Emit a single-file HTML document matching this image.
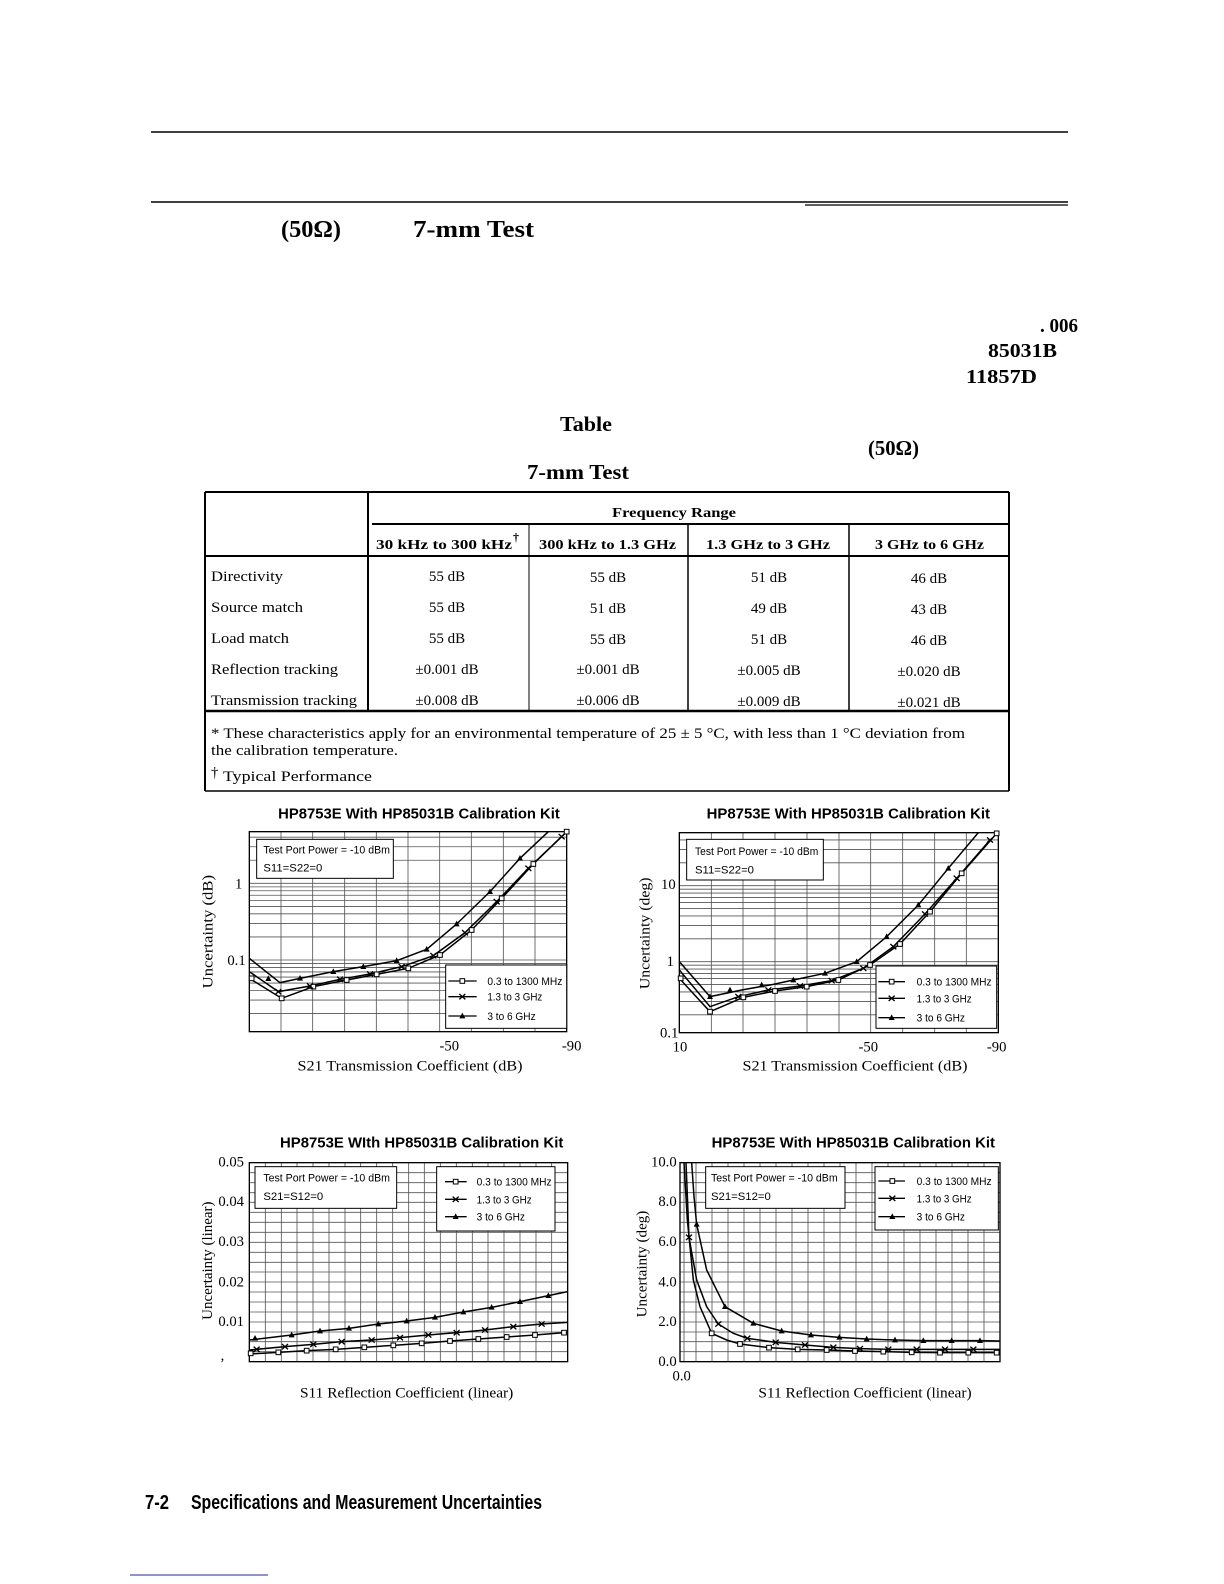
<!DOCTYPE html>
<html><head><meta charset="utf-8"><style>
html,body{margin:0;padding:0;background:#fff}
svg{display:block}
.s{font-family:"Liberation Serif",serif}
.a{font-family:"Liberation Sans",sans-serif}
.g line{stroke:#555;stroke-width:2.5}
.c{fill:none;stroke:#000;stroke-width:4.5}
</style></head><body>
<svg width="1224" height="1584" viewBox="0 0 1224 1584" xmlns="http://www.w3.org/2000/svg">
<defs>
<rect id="sq" x="-7" y="-7" width="14" height="14" fill="#fff" stroke="#000" stroke-width="3"/>
<path id="xx" d="M-9-8L9 8M-9 8L9-8" stroke="#000" stroke-width="4" fill="none"/>
<path id="tr" d="M0-10L9 7H-9Z" fill="#000"/>
</defs>
<rect width="1224" height="1584" fill="#fff"/>
<line x1="151" y1="132" x2="1068" y2="132" stroke="#000" stroke-width="1.5"/>
<line x1="151" y1="202" x2="1068" y2="202" stroke="#000" stroke-width="1.5"/>
<line x1="805" y1="205" x2="1068" y2="205" stroke="#000" stroke-width="1.2"/>
<g class="s" font-weight="bold" fill="#000">
<text x="281" y="237" font-size="24" textLength="60" lengthAdjust="spacingAndGlyphs">(50Ω)</text>
<text x="413" y="237" font-size="24" textLength="121" lengthAdjust="spacingAndGlyphs">7-mm Test</text>
<text x="1040" y="332" font-size="20" textLength="38" lengthAdjust="spacingAndGlyphs">. 006</text>
<text x="988" y="357" font-size="20" textLength="69" lengthAdjust="spacingAndGlyphs">85031B</text>
<text x="966" y="383" font-size="20" textLength="71" lengthAdjust="spacingAndGlyphs">11857D</text>
<text x="560" y="431" font-size="21" textLength="52" lengthAdjust="spacingAndGlyphs">Table</text>
<text x="868" y="455" font-size="21" textLength="51" lengthAdjust="spacingAndGlyphs">(50Ω)</text>
<text x="527" y="479" font-size="21" textLength="102" lengthAdjust="spacingAndGlyphs">7-mm Test</text>
</g>
<g stroke="#000" fill="none">
<line x1="205" y1="492" x2="1009" y2="492" stroke-width="2"/>
<line x1="205" y1="492" x2="205" y2="791" stroke-width="2"/>
<line x1="1009" y1="492" x2="1009" y2="791" stroke-width="2"/>
<line x1="372" y1="524" x2="1009" y2="524" stroke-width="2"/>
<line x1="205" y1="556" x2="1009" y2="556" stroke-width="2"/>
<line x1="368" y1="492" x2="368" y2="711" stroke-width="2"/>
<line x1="529" y1="524" x2="529" y2="711" stroke-width="1"/>
<line x1="688" y1="524" x2="688" y2="711" stroke-width="1.5"/>
<line x1="849" y1="524" x2="849" y2="711" stroke-width="1.5"/>
<line x1="205" y1="711" x2="1009" y2="711" stroke-width="2.5"/>
<line x1="205" y1="791" x2="1009" y2="791" stroke-width="1.5"/>
</g>
<g class="s" fill="#000" font-size="14">
<text x="674" y="517" font-weight="bold" text-anchor="middle" textLength="124" lengthAdjust="spacingAndGlyphs">Frequency Range</text>
<text x="376" y="549" font-weight="bold" textLength="136" lengthAdjust="spacingAndGlyphs">30 kHz to 300 kHz</text><text x="513" y="541" font-size="12" font-weight="bold">†</text>
<text x="539" y="549" font-weight="bold" textLength="137" lengthAdjust="spacingAndGlyphs">300 kHz to 1.3 GHz</text>
<text x="706" y="549" font-weight="bold" textLength="124" lengthAdjust="spacingAndGlyphs">1.3 GHz to 3 GHz</text>
<text x="875" y="549" font-weight="bold" textLength="109" lengthAdjust="spacingAndGlyphs">3 GHz to 6 GHz</text>
<g font-size="15">
<text x="211" y="581" textLength="72" lengthAdjust="spacingAndGlyphs">Directivity</text>
<text x="211" y="612" textLength="92" lengthAdjust="spacingAndGlyphs">Source match</text>
<text x="211" y="643" textLength="78" lengthAdjust="spacingAndGlyphs">Load match</text>
<text x="211" y="674" textLength="127" lengthAdjust="spacingAndGlyphs">Reflection tracking</text>
<text x="211" y="705" textLength="146" lengthAdjust="spacingAndGlyphs">Transmission tracking</text>
</g>
<g text-anchor="middle" font-size="15">
<text x="447" y="581">55 dB</text><text x="608" y="582">55 dB</text><text x="769" y="582">51 dB</text><text x="929" y="583">46 dB</text>
<text x="447" y="612">55 dB</text><text x="608" y="613">51 dB</text><text x="769" y="613">49 dB</text><text x="929" y="614">43 dB</text>
<text x="447" y="643">55 dB</text><text x="608" y="644">55 dB</text><text x="769" y="644">51 dB</text><text x="929" y="645">46 dB</text>
<text x="447" y="674">±0.001 dB</text><text x="608" y="674">±0.001 dB</text><text x="769" y="675">±0.005 dB</text><text x="929" y="676">±0.020 dB</text>
<text x="447" y="705">±0.008 dB</text><text x="608" y="705">±0.006 dB</text><text x="769" y="706">±0.009 dB</text><text x="929" y="707">±0.021 dB</text>
</g>
<text x="211" y="738" font-size="15" textLength="754" lengthAdjust="spacingAndGlyphs">* These characteristics apply for an environmental temperature of 25 ± 5 °C, with less than 1 °C deviation from</text>
<text x="211" y="755" font-size="15" textLength="187" lengthAdjust="spacingAndGlyphs">the calibration temperature.</text>
<text x="211" y="777" font-size="15">†</text>
<text x="223" y="781" font-size="15" textLength="149" lengthAdjust="spacingAndGlyphs">Typical Performance</text>
</g>

<!-- CHART 1 -->
<g transform="translate(200,790) scale(0.33333)">
<text class="a" x="657" y="85" font-size="44" font-weight="bold" text-anchor="middle" textLength="845" lengthAdjust="spacingAndGlyphs">HP8753E With HP85031B Calibration Kit</text>
<g class="g">
<line x1="148" y1="670.8" x2="1100" y2="670.8"/><line x1="148" y1="630.3" x2="1100" y2="630.3"/><line x1="148" y1="601.5" x2="1100" y2="601.5"/><line x1="148" y1="579.2" x2="1100" y2="579.2"/><line x1="148" y1="561.1" x2="1100" y2="561.1"/><line x1="148" y1="545.7" x2="1100" y2="545.7"/><line x1="148" y1="532.3" x2="1100" y2="532.3"/><line x1="148" y1="520.6" x2="1100" y2="520.6"/>
<line x1="148" y1="510" x2="1100" y2="510"/>
<line x1="148" y1="440.8" x2="1100" y2="440.8"/><line x1="148" y1="400.3" x2="1100" y2="400.3"/><line x1="148" y1="371.5" x2="1100" y2="371.5"/><line x1="148" y1="349.2" x2="1100" y2="349.2"/><line x1="148" y1="331.1" x2="1100" y2="331.1"/><line x1="148" y1="315.7" x2="1100" y2="315.7"/><line x1="148" y1="302.3" x2="1100" y2="302.3"/><line x1="148" y1="290.6" x2="1100" y2="290.6"/>
<line x1="148" y1="280" x2="1100" y2="280"/>
<line x1="148" y1="210.8" x2="1100" y2="210.8"/><line x1="148" y1="170.3" x2="1100" y2="170.3"/><line x1="148" y1="141.5" x2="1100" y2="141.5"/>
<line x1="243" y1="125" x2="243" y2="725"/><line x1="338" y1="125" x2="338" y2="725"/><line x1="434" y1="125" x2="434" y2="725"/><line x1="529" y1="125" x2="529" y2="725"/><line x1="624" y1="125" x2="624" y2="725"/><line x1="719" y1="125" x2="719" y2="725"/><line x1="814" y1="125" x2="814" y2="725"/><line x1="910" y1="125" x2="910" y2="725"/><line x1="1005" y1="125" x2="1005" y2="725"/>
</g>
<rect x="148" y="125" width="952" height="600" fill="none" stroke="#000" stroke-width="4"/>
<polyline class="c" points="148,505 240,578 300,565 400,545 490,530 590,512 680,478 770,402 870,305 960,205 1045,125"/>
<polyline class="c" points="148,565 245,625 340,590 440,570 530,553 625,535 720,495 815,420 905,325 1000,222 1100,125"/>
<polyline class="c" stroke-width="6" points="148,545 235,605 330,588 420,568 510,552 605,530 700,497 795,428 890,335 985,235 1085,140"/>
<use href="#tr" x="205" y="566"/><use href="#tr" x="300" y="565"/><use href="#tr" x="400" y="545"/><use href="#tr" x="490" y="530"/><use href="#tr" x="590" y="512"/><use href="#tr" x="680" y="478"/><use href="#tr" x="770" y="402"/><use href="#tr" x="870" y="305"/><use href="#tr" x="960" y="205"/>
<use href="#sq" x="155" y="565"/><use href="#sq" x="245" y="625"/><use href="#sq" x="340" y="590"/><use href="#sq" x="440" y="570"/><use href="#sq" x="530" y="553"/><use href="#sq" x="625" y="535"/><use href="#sq" x="720" y="495"/><use href="#sq" x="815" y="420"/><use href="#sq" x="905" y="325"/><use href="#sq" x="1000" y="222"/><use href="#sq" x="1100" y="125"/>
<use href="#xx" x="235" y="605"/><use href="#xx" x="330" y="588"/><use href="#xx" x="420" y="568"/><use href="#xx" x="510" y="552"/><use href="#xx" x="605" y="530"/><use href="#xx" x="700" y="497"/><use href="#xx" x="795" y="428"/><use href="#xx" x="890" y="335"/><use href="#xx" x="985" y="235"/><use href="#xx" x="1085" y="140"/>
<rect x="170" y="148" width="410" height="117" fill="#fff" stroke="#000" stroke-width="3"/>
<g class="a" font-size="34"><text x="190" y="190" textLength="380" lengthAdjust="spacingAndGlyphs">Test Port Power = -10 dBm</text><text x="190" y="245">S11=S22=0</text></g>
<rect x="737" y="525" width="363" height="190" fill="#fff" stroke="#000" stroke-width="3"/>
<g class="a" font-size="34">
<line x1="745" y1="573" x2="830" y2="573" stroke="#000" stroke-width="4"/><use href="#sq" x="787" y="573"/><text x="862" y="585" textLength="225" lengthAdjust="spacingAndGlyphs">0.3 to 1300 MHz</text>
<line x1="745" y1="620" x2="830" y2="620" stroke="#000" stroke-width="4"/><use href="#xx" x="787" y="620"/><text x="862" y="632" textLength="165" lengthAdjust="spacingAndGlyphs">1.3 to 3 GHz</text>
<line x1="745" y1="678" x2="830" y2="678" stroke="#000" stroke-width="4"/><use href="#tr" x="787" y="678"/><text x="862" y="690" textLength="145" lengthAdjust="spacingAndGlyphs">3 to 6 GHz</text>
</g>
<g class="s" font-size="44">
<text x="127" y="295" text-anchor="end">1</text><text x="137" y="525" text-anchor="end">0.1</text>
<text x="748" y="782" text-anchor="middle">-50</text><text x="1115" y="782" text-anchor="middle">-90</text>
<text transform="translate(38,425) rotate(-90)" text-anchor="middle" textLength="340" lengthAdjust="spacingAndGlyphs">Uncertainty (dB)</text>
<text x="630" y="842" text-anchor="middle" textLength="675" lengthAdjust="spacingAndGlyphs">S21 Transmission Coefficient (dB)</text>
</g>
</g>

<!-- CHART 2 -->
<g transform="translate(610,790) scale(0.33333)">
<text class="a" x="715" y="85" font-size="44" font-weight="bold" text-anchor="middle" textLength="850" lengthAdjust="spacingAndGlyphs">HP8753E With HP85031B Calibration Kit</text>
<g class="g">
<line x1="208" y1="674.4" x2="1165" y2="674.4"/><line x1="208" y1="634.3" x2="1165" y2="634.3"/><line x1="208" y1="605.7" x2="1165" y2="605.7"/><line x1="208" y1="583.6" x2="1165" y2="583.6"/><line x1="208" y1="565.6" x2="1165" y2="565.6"/><line x1="208" y1="550.3" x2="1165" y2="550.3"/><line x1="208" y1="537.1" x2="1165" y2="537.1"/><line x1="208" y1="525.5" x2="1165" y2="525.5"/>
<line x1="208" y1="515" x2="1165" y2="515"/>
<line x1="208" y1="446.4" x2="1165" y2="446.4"/><line x1="208" y1="406.2" x2="1165" y2="406.2"/><line x1="208" y1="377.7" x2="1165" y2="377.7"/><line x1="208" y1="355.6" x2="1165" y2="355.6"/><line x1="208" y1="337.6" x2="1165" y2="337.6"/><line x1="208" y1="322.3" x2="1165" y2="322.3"/><line x1="208" y1="309.1" x2="1165" y2="309.1"/><line x1="208" y1="297.5" x2="1165" y2="297.5"/>
<line x1="208" y1="287" x2="1165" y2="287"/>
<line x1="208" y1="218.4" x2="1165" y2="218.4"/><line x1="208" y1="178.2" x2="1165" y2="178.2"/><line x1="208" y1="149.7" x2="1165" y2="149.7"/>
<line x1="304" y1="128" x2="304" y2="728"/><line x1="399" y1="128" x2="399" y2="728"/><line x1="495" y1="128" x2="495" y2="728"/><line x1="591" y1="128" x2="591" y2="728"/><line x1="687" y1="128" x2="687" y2="728"/><line x1="782" y1="128" x2="782" y2="728"/><line x1="878" y1="128" x2="878" y2="728"/><line x1="974" y1="128" x2="974" y2="728"/><line x1="1069" y1="128" x2="1069" y2="728"/>
</g>
<rect x="208" y="128" width="957" height="600" fill="none" stroke="#000" stroke-width="4"/>
<polyline class="c" points="208,515 300,620 395,600 490,583 550,570 645,550 740,515 830,440 925,345 1015,235 1105,128"/>
<polyline class="c" points="208,565 300,665 400,622 495,603 590,590 685,570 780,525 870,462 960,365 1055,250 1160,130"/>
<polyline class="c" stroke-width="6" points="208,540 300,650 385,620 475,600 570,588 665,572 760,535 850,470 945,372 1040,265 1140,150"/>
<use href="#tr" x="300" y="620"/><use href="#tr" x="360" y="600"/><use href="#tr" x="455" y="585"/><use href="#tr" x="550" y="570"/><use href="#tr" x="645" y="550"/><use href="#tr" x="740" y="515"/><use href="#tr" x="830" y="440"/><use href="#tr" x="925" y="345"/><use href="#tr" x="1015" y="235"/>
<use href="#sq" x="212" y="565"/><use href="#sq" x="300" y="665"/><use href="#sq" x="400" y="622"/><use href="#sq" x="495" y="603"/><use href="#sq" x="590" y="590"/><use href="#sq" x="685" y="570"/><use href="#sq" x="780" y="525"/><use href="#sq" x="870" y="462"/><use href="#sq" x="960" y="365"/><use href="#sq" x="1055" y="250"/><use href="#sq" x="1160" y="130"/>
<use href="#xx" x="385" y="620"/><use href="#xx" x="475" y="600"/><use href="#xx" x="570" y="588"/><use href="#xx" x="665" y="572"/><use href="#xx" x="760" y="535"/><use href="#xx" x="850" y="470"/><use href="#xx" x="945" y="372"/><use href="#xx" x="1040" y="265"/><use href="#xx" x="1140" y="150"/>
<rect x="230" y="148" width="410" height="122" fill="#fff" stroke="#000" stroke-width="3"/>
<g class="a" font-size="34"><text x="255" y="195" textLength="370" lengthAdjust="spacingAndGlyphs">Test Port Power = -10 dBm</text><text x="255" y="250">S11=S22=0</text></g>
<rect x="798" y="528" width="362" height="187" fill="#fff" stroke="#000" stroke-width="3"/>
<g class="a" font-size="34">
<line x1="805" y1="575" x2="885" y2="575" stroke="#000" stroke-width="4"/><use href="#sq" x="845" y="575"/><text x="920" y="587" textLength="225" lengthAdjust="spacingAndGlyphs">0.3 to 1300 MHz</text>
<line x1="805" y1="625" x2="885" y2="625" stroke="#000" stroke-width="4"/><use href="#xx" x="845" y="625"/><text x="920" y="637" textLength="165" lengthAdjust="spacingAndGlyphs">1.3 to 3 GHz</text>
<line x1="805" y1="683" x2="885" y2="683" stroke="#000" stroke-width="4"/><use href="#tr" x="845" y="683"/><text x="920" y="695" textLength="145" lengthAdjust="spacingAndGlyphs">3 to 6 GHz</text>
</g>
<g class="s" font-size="44">
<text x="197" y="297" text-anchor="end">10</text><text x="192" y="528" text-anchor="end">1</text><text x="205" y="742" text-anchor="end">0.1</text>
<text x="210" y="785" text-anchor="middle">10</text><text x="775" y="785" text-anchor="middle">-50</text><text x="1160" y="785" text-anchor="middle">-90</text>
<text transform="translate(118,430) rotate(-90)" text-anchor="middle" textLength="335" lengthAdjust="spacingAndGlyphs">Uncertainty (deg)</text>
<text x="735" y="842" text-anchor="middle" textLength="675" lengthAdjust="spacingAndGlyphs">S21 Transmission Coefficient (dB)</text>
</g>
</g>

<!-- CHART 3 -->
<g transform="translate(200,1120) scale(0.33333)">
<text class="a" x="665" y="83" font-size="44" font-weight="bold" text-anchor="middle" textLength="850" lengthAdjust="spacingAndGlyphs">HP8753E WIth HP85031B Calibration Kit</text>
<g class="g">
<line x1="148" y1="158" x2="1103" y2="158"/><line x1="148" y1="188" x2="1103" y2="188"/><line x1="148" y1="218" x2="1103" y2="218"/><line x1="148" y1="247" x2="1103" y2="247"/><line x1="148" y1="277" x2="1103" y2="277"/><line x1="148" y1="307" x2="1103" y2="307"/><line x1="148" y1="337" x2="1103" y2="337"/><line x1="148" y1="367" x2="1103" y2="367"/><line x1="148" y1="397" x2="1103" y2="397"/><line x1="148" y1="427" x2="1103" y2="427"/><line x1="148" y1="456" x2="1103" y2="456"/><line x1="148" y1="486" x2="1103" y2="486"/><line x1="148" y1="516" x2="1103" y2="516"/><line x1="148" y1="546" x2="1103" y2="546"/><line x1="148" y1="576" x2="1103" y2="576"/><line x1="148" y1="606" x2="1103" y2="606"/><line x1="148" y1="636" x2="1103" y2="636"/><line x1="148" y1="665" x2="1103" y2="665"/><line x1="148" y1="695" x2="1103" y2="695"/>
<line x1="196" y1="128" x2="196" y2="725"/><line x1="244" y1="128" x2="244" y2="725"/><line x1="291" y1="128" x2="291" y2="725"/><line x1="339" y1="128" x2="339" y2="725"/><line x1="387" y1="128" x2="387" y2="725"/><line x1="435" y1="128" x2="435" y2="725"/><line x1="482" y1="128" x2="482" y2="725"/><line x1="530" y1="128" x2="530" y2="725"/><line x1="578" y1="128" x2="578" y2="725"/><line x1="626" y1="128" x2="626" y2="725"/><line x1="673" y1="128" x2="673" y2="725"/><line x1="721" y1="128" x2="721" y2="725"/><line x1="769" y1="128" x2="769" y2="725"/><line x1="817" y1="128" x2="817" y2="725"/><line x1="864" y1="128" x2="864" y2="725"/><line x1="912" y1="128" x2="912" y2="725"/><line x1="960" y1="128" x2="960" y2="725"/><line x1="1008" y1="128" x2="1008" y2="725"/><line x1="1055" y1="128" x2="1055" y2="725"/>
</g>
<rect x="148" y="128" width="955" height="597" fill="none" stroke="#000" stroke-width="4"/>
<polyline class="c" points="148,660 275,645 360,633 447,625 535,612 620,603 705,592 790,576 875,562 960,545 1045,527 1103,515"/>
<polyline class="c" points="148,690 255,680 340,673 425,665 515,660 600,653 685,645 770,638 855,630 940,620 1025,612 1103,607"/>
<polyline class="c" points="148,702 235,697 320,692 407,688 493,682 580,676 665,670 750,663 835,657 920,651 1005,645 1103,637"/>
<use href="#tr" x="165" y="655"/><use href="#tr" x="275" y="645"/><use href="#tr" x="360" y="633"/><use href="#tr" x="447" y="625"/><use href="#tr" x="535" y="612"/><use href="#tr" x="620" y="603"/><use href="#tr" x="705" y="592"/><use href="#tr" x="790" y="576"/><use href="#tr" x="875" y="562"/><use href="#tr" x="960" y="545"/><use href="#tr" x="1045" y="527"/>
<use href="#xx" x="170" y="688"/><use href="#xx" x="255" y="680"/><use href="#xx" x="340" y="673"/><use href="#xx" x="425" y="665"/><use href="#xx" x="515" y="660"/><use href="#xx" x="600" y="653"/><use href="#xx" x="685" y="645"/><use href="#xx" x="770" y="638"/><use href="#xx" x="855" y="630"/><use href="#xx" x="940" y="620"/><use href="#xx" x="1025" y="612"/>
<use href="#sq" x="152" y="700"/><use href="#sq" x="235" y="697"/><use href="#sq" x="320" y="692"/><use href="#sq" x="407" y="688"/><use href="#sq" x="493" y="682"/><use href="#sq" x="580" y="676"/><use href="#sq" x="665" y="670"/><use href="#sq" x="750" y="663"/><use href="#sq" x="835" y="657"/><use href="#sq" x="920" y="651"/><use href="#sq" x="1005" y="645"/><use href="#sq" x="1092" y="638"/>
<rect x="165" y="140" width="425" height="125" fill="#fff" stroke="#000" stroke-width="3"/>
<g class="a" font-size="34"><text x="190" y="185" textLength="380" lengthAdjust="spacingAndGlyphs">Test Port Power = -10 dBm</text><text x="190" y="240">S21=S12=0</text></g>
<rect x="710" y="140" width="355" height="193" fill="#fff" stroke="#000" stroke-width="3"/>
<g class="a" font-size="34">
<line x1="735" y1="185" x2="800" y2="185" stroke="#000" stroke-width="4"/><use href="#sq" x="767" y="185"/><text x="830" y="197" textLength="225" lengthAdjust="spacingAndGlyphs">0.3 to 1300 MHz</text>
<line x1="735" y1="238" x2="800" y2="238" stroke="#000" stroke-width="4"/><use href="#xx" x="767" y="238"/><text x="830" y="250" textLength="165" lengthAdjust="spacingAndGlyphs">1.3 to 3 GHz</text>
<line x1="735" y1="290" x2="800" y2="290" stroke="#000" stroke-width="4"/><use href="#tr" x="767" y="290"/><text x="830" y="302" textLength="145" lengthAdjust="spacingAndGlyphs">3 to 6 GHz</text>
</g>
<g class="s" font-size="44">
<text x="132" y="140" text-anchor="end">0.05</text><text x="132" y="258" text-anchor="end">0.04</text><text x="132" y="378" text-anchor="end">0.03</text><text x="132" y="500" text-anchor="end">0.02</text><text x="132" y="618" text-anchor="end">0.01</text>
<text x="62" y="720">,</text>
<text transform="translate(36,422) rotate(-90)" text-anchor="middle" textLength="355" lengthAdjust="spacingAndGlyphs">Uncertainty (linear)</text>
<text x="620" y="832" text-anchor="middle" textLength="640" lengthAdjust="spacingAndGlyphs">S11 Reflection Coefficient (linear)</text>
</g>
</g>

<!-- CHART 4 -->
<g transform="translate(610,1120) scale(0.33333)">
<text class="a" x="730" y="83" font-size="44" font-weight="bold" text-anchor="middle" textLength="850" lengthAdjust="spacingAndGlyphs">HP8753E With HP85031B Calibration Kit</text>
<g class="g">
<line x1="210" y1="158" x2="1170" y2="158"/><line x1="210" y1="188" x2="1170" y2="188"/><line x1="210" y1="218" x2="1170" y2="218"/><line x1="210" y1="247" x2="1170" y2="247"/><line x1="210" y1="277" x2="1170" y2="277"/><line x1="210" y1="307" x2="1170" y2="307"/><line x1="210" y1="337" x2="1170" y2="337"/><line x1="210" y1="367" x2="1170" y2="367"/><line x1="210" y1="397" x2="1170" y2="397"/><line x1="210" y1="427" x2="1170" y2="427"/><line x1="210" y1="456" x2="1170" y2="456"/><line x1="210" y1="486" x2="1170" y2="486"/><line x1="210" y1="516" x2="1170" y2="516"/><line x1="210" y1="546" x2="1170" y2="546"/><line x1="210" y1="576" x2="1170" y2="576"/><line x1="210" y1="606" x2="1170" y2="606"/><line x1="210" y1="636" x2="1170" y2="636"/><line x1="210" y1="665" x2="1170" y2="665"/><line x1="210" y1="695" x2="1170" y2="695"/>
<line x1="222" y1="128" x2="222" y2="725"/><line x1="258" y1="128" x2="258" y2="725"/><line x1="306" y1="128" x2="306" y2="725"/><line x1="354" y1="128" x2="354" y2="725"/><line x1="402" y1="128" x2="402" y2="725"/><line x1="450" y1="128" x2="450" y2="725"/><line x1="498" y1="128" x2="498" y2="725"/><line x1="546" y1="128" x2="546" y2="725"/><line x1="594" y1="128" x2="594" y2="725"/><line x1="642" y1="128" x2="642" y2="725"/><line x1="690" y1="128" x2="690" y2="725"/><line x1="738" y1="128" x2="738" y2="725"/><line x1="786" y1="128" x2="786" y2="725"/><line x1="834" y1="128" x2="834" y2="725"/><line x1="882" y1="128" x2="882" y2="725"/><line x1="930" y1="128" x2="930" y2="725"/><line x1="978" y1="128" x2="978" y2="725"/><line x1="1026" y1="128" x2="1026" y2="725"/><line x1="1074" y1="128" x2="1074" y2="725"/><line x1="1122" y1="128" x2="1122" y2="725"/>
</g>
<rect x="210" y="128" width="960" height="597" fill="none" stroke="#000" stroke-width="4"/>
<polyline class="c" points="222,128 232,300 250,480 270,560 305,640 350,660 390,672 477,683 563,688 650,690 735,693 820,695 905,697 990,698 1075,698 1170,698"/>
<polyline class="c" points="228,128 233,250 237,352 260,480 290,560 325,612 370,640 412,655 497,667 585,675 670,682 750,686 835,688 920,688 1005,688 1090,688 1170,688"/>
<polyline class="c" points="245,128 252,230 260,313 290,450 345,560 430,610 515,633 603,645 688,652 770,657 855,660 940,662 1025,662 1110,662 1170,663"/>
<use href="#sq" x="305" y="640"/><use href="#sq" x="390" y="672"/><use href="#sq" x="477" y="683"/><use href="#sq" x="563" y="688"/><use href="#sq" x="650" y="690"/><use href="#sq" x="735" y="693"/><use href="#sq" x="820" y="695"/><use href="#sq" x="905" y="697"/><use href="#sq" x="990" y="698"/><use href="#sq" x="1075" y="698"/><use href="#sq" x="1160" y="698"/>
<use href="#xx" x="237" y="352"/><use href="#xx" x="325" y="612"/><use href="#xx" x="412" y="655"/><use href="#xx" x="497" y="667"/><use href="#xx" x="585" y="675"/><use href="#xx" x="670" y="682"/><use href="#xx" x="750" y="686"/><use href="#xx" x="835" y="688"/><use href="#xx" x="920" y="688"/><use href="#xx" x="1005" y="688"/><use href="#xx" x="1090" y="688"/>
<use href="#tr" x="260" y="313"/><use href="#tr" x="345" y="560"/><use href="#tr" x="430" y="610"/><use href="#tr" x="515" y="633"/><use href="#tr" x="603" y="645"/><use href="#tr" x="688" y="652"/><use href="#tr" x="770" y="657"/><use href="#tr" x="855" y="660"/><use href="#tr" x="940" y="662"/><use href="#tr" x="1025" y="662"/><use href="#tr" x="1110" y="662"/>
<rect x="287" y="140" width="418" height="125" fill="#fff" stroke="#000" stroke-width="3"/>
<g class="a" font-size="34"><text x="303" y="185" textLength="380" lengthAdjust="spacingAndGlyphs">Test Port Power = -10 dBm</text><text x="303" y="240">S21=S12=0</text></g>
<rect x="795" y="140" width="370" height="190" fill="#fff" stroke="#000" stroke-width="3"/>
<g class="a" font-size="34">
<line x1="805" y1="183" x2="885" y2="183" stroke="#000" stroke-width="4"/><use href="#sq" x="847" y="183"/><text x="920" y="195" textLength="225" lengthAdjust="spacingAndGlyphs">0.3 to 1300 MHz</text>
<line x1="805" y1="235" x2="885" y2="235" stroke="#000" stroke-width="4"/><use href="#xx" x="847" y="235"/><text x="920" y="247" textLength="165" lengthAdjust="spacingAndGlyphs">1.3 to 3 GHz</text>
<line x1="805" y1="290" x2="885" y2="290" stroke="#000" stroke-width="4"/><use href="#tr" x="847" y="290"/><text x="920" y="302" textLength="145" lengthAdjust="spacingAndGlyphs">3 to 6 GHz</text>
</g>
<g class="s" font-size="44">
<text x="200" y="140" text-anchor="end">10.0</text><text x="200" y="258" text-anchor="end">8.0</text><text x="200" y="378" text-anchor="end">6.0</text><text x="200" y="500" text-anchor="end">4.0</text><text x="200" y="618" text-anchor="end">2.0</text><text x="200" y="738" text-anchor="end">0.0</text>
<text x="215" y="782" text-anchor="middle">0.0</text>
<text transform="translate(110,432) rotate(-90)" text-anchor="middle" textLength="320" lengthAdjust="spacingAndGlyphs">Uncertainty (deg)</text>
<text x="765" y="832" text-anchor="middle" textLength="640" lengthAdjust="spacingAndGlyphs">S11 Reflection Coefficient (linear)</text>
</g>
</g>

<g class="a" font-weight="bold" fill="#000">
<text x="145" y="1509" font-size="20" textLength="24" lengthAdjust="spacingAndGlyphs">7-2</text>
<text x="191" y="1509" font-size="20" textLength="351" lengthAdjust="spacingAndGlyphs">Specifications and Measurement Uncertainties</text>
</g>
<line x1="130" y1="1575" x2="268" y2="1575" stroke="#1a2a9a" stroke-width="1"/>
</svg>
</body></html>
